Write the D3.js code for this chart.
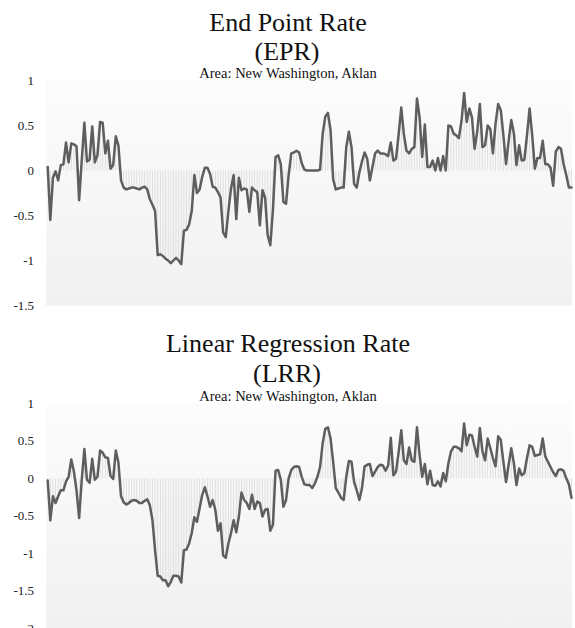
<!DOCTYPE html>
<html>
<head>
<meta charset="utf-8">
<script src="https://cdn.jsdelivr.net/npm/d3@7"></script>
<style>
  body { margin: 0; background: #fff; }
  svg { display: block; }
</style>
</head>
<body>
<script>
// shoreline change rates per transect (m/yr)
var eprValues = [
  0.04, -0.55, -0.08, -0.01, -0.11, 0.06, 0.07, 0.31, 0.09, 0.30,
  0.29, 0.27, -0.33, 0.11, 0.53, 0.10, 0.12, 0.49, 0.09, 0.17,
  0.54, 0.53, 0.19, 0.33, 0.02, 0.06, 0.38, 0.28, -0.11, -0.19,
  -0.21, -0.20, -0.19, -0.19, -0.20, -0.21, -0.19, -0.18, -0.21, -0.32,
  -0.38, -0.45, -0.94, -0.93, -0.95, -0.98, -1.00, -1.03, -1.00, -0.97,
  -1.00, -1.04, -0.67, -0.66, -0.60, -0.45, -0.05, -0.25, -0.21, -0.07,
  0.03, 0.03, -0.04, -0.18, -0.19, -0.24, -0.30, -0.69, -0.74, -0.45,
  -0.20, -0.05, -0.54, -0.08, -0.22, -0.20, -0.21, -0.46, -0.19, -0.22,
  -0.24, -0.61, -0.22, -0.30, -0.72, -0.83, -0.44, 0.15, 0.17, 0.07,
  -0.35, -0.37, -0.05, 0.19, 0.20, 0.22, 0.20, 0.08, 0.01, 0.00,
  0.00, 0.00, 0.00, 0.00, 0.01, 0.41, 0.60, 0.64, 0.45, -0.10,
  -0.21, -0.20, -0.19, -0.19, 0.26, 0.43, 0.26, -0.15, -0.19, -0.02,
  0.10, 0.20, 0.13, -0.11, 0.04, 0.19, 0.22, 0.19, 0.19, 0.18,
  0.16, 0.31, 0.11, 0.13, 0.40, 0.70, 0.40, 0.22, 0.19, 0.24,
  0.26, 0.80, 0.59, 0.15, 0.51, 0.04, 0.04, 0.11, 0.00, 0.14,
  0.00, 0.16, 0.00, 0.50, 0.49, 0.41, 0.39, 0.36, 0.55, 0.86,
  0.54, 0.69, 0.59, 0.24, 0.43, 0.74, 0.26, 0.28, 0.50, 0.46,
  0.19, 0.52, 0.74, 0.67, 0.39, 0.07, 0.33, 0.56, 0.41, 0.06,
  0.28, 0.11, 0.12, 0.39, 0.69, 0.39, 0.02, 0.14, 0.14, 0.33,
  0.07, 0.07, 0.03, -0.17, 0.21, 0.26, 0.24, 0.07, -0.05, -0.19,
  -0.19
];
var lrrValues = [
  -0.03, -0.56, -0.24, -0.33, -0.24, -0.16, -0.16, -0.04, 0.02, 0.25,
  0.09, -0.16, -0.53, -0.02, 0.39, -0.02, -0.06, 0.26, -0.02, 0.02,
  0.37, 0.34, 0.28, 0.27, 0.03, -0.01, 0.37, 0.21, -0.24, -0.32,
  -0.35, -0.33, -0.30, -0.29, -0.30, -0.33, -0.33, -0.30, -0.28, -0.36,
  -0.56, -0.96, -1.30, -1.31, -1.36, -1.36, -1.44, -1.38, -1.30, -1.30,
  -1.31, -1.39, -0.96, -0.95, -0.87, -0.73, -0.52, -0.58, -0.40, -0.22,
  -0.12, -0.24, -0.38, -0.29, -0.42, -0.70, -0.60, -1.03, -1.06, -0.87,
  -0.73, -0.56, -0.72, -0.51, -0.19, -0.29, -0.33, -0.41, -0.22, -0.41,
  -0.31, -0.33, -0.51, -0.42, -0.41, -0.70, -0.62, 0.10, 0.11, -0.02,
  -0.38, -0.29, 0.00, 0.11, 0.15, 0.16, 0.15, 0.02, -0.08, -0.09,
  -0.09, -0.13, -0.07, 0.02, 0.15, 0.47, 0.66, 0.68, 0.53, 0.22,
  -0.13, -0.19, -0.26, -0.29, 0.02, 0.23, 0.22, -0.05, -0.16, -0.29,
  -0.13, 0.16, 0.18, 0.19, 0.03, 0.09, 0.15, 0.18, 0.17, 0.10,
  0.17, 0.54, 0.04, 0.09, 0.35, 0.64, 0.24, 0.19, 0.41, 0.24,
  0.22, 0.68, 0.31, 0.02, 0.19, -0.08, 0.10, -0.09, -0.10, -0.04,
  -0.11, 0.07, -0.04, 0.20, 0.36, 0.42, 0.42, 0.40, 0.36, 0.73,
  0.44, 0.58, 0.57, 0.42, 0.29, 0.67, 0.36, 0.24, 0.53, 0.40,
  0.27, 0.16, 0.56, 0.51, 0.22, -0.05, 0.18, 0.40, 0.20, -0.09,
  0.13, 0.04, 0.07, 0.27, 0.44, 0.42, 0.30, 0.31, 0.32, 0.53,
  0.29, 0.22, 0.15, 0.08, 0.03, 0.11, 0.12, 0.10, 0.00, -0.08,
  -0.26
];
var eprTicks = [1, 0.5, 0, -0.5, -1, -1.5];
var lrrTicks = [1, 0.5, 0, -0.5, -1, -1.5, -2];
var eprTitle = ["End Point Rate", "(EPR)"];
var lrrTitle = ["Linear Regression Rate", "(LRR)"];
var areaLabel = "Area: New Washington, Aklan";

var W = 575, H = 628;
var serif = "'Liberation Serif', 'Times New Roman', Times, serif";
var xLeft = 47.7, xRight = 571.5;

var svg = d3.select("body").append("svg").attr("width", W).attr("height", H);

var defs = svg.append("defs");
var grad = defs.append("linearGradient").attr("id", "plotbg")
  .attr("x1", 0).attr("y1", 0).attr("x2", 0).attr("y2", 1);
grad.append("stop").attr("offset", "0%").attr("stop-color", "#fcfcfc");
grad.append("stop").attr("offset", "100%").attr("stop-color", "#f1f1f1");

function drawChart(values, ticks, title, opt) {
  var g = svg.append("g");

  var x = d3.scaleLinear().domain([0, values.length - 1]).range([xLeft, xRight]);
  var y = d3.scaleLinear().domain([d3.min(ticks), d3.max(ticks)]).range([opt.bottom, opt.top]);

  // plot area
  g.append("rect")
    .attr("x", xLeft - 1.5).attr("y", y(d3.max(ticks)))
    .attr("width", xRight - xLeft + 2).attr("height", y(d3.min(ticks)) - y(d3.max(ticks)))
    .attr("fill", "url(#plotbg)");

  // thin bars from zero to each value
  g.selectAll("rect.bar").data(values).enter().append("rect")
    .attr("class", "bar")
    .attr("x", function(d, i) { return x(i) - 0.4; })
    .attr("width", 0.8)
    .attr("y", function(d) { return y(Math.max(0, d)); })
    .attr("height", function(d) { return Math.abs(y(d) - y(0)); })
    .attr("fill", "#d9d9d9");

  var line = d3.line()
    .x(function(d, i) { return x(i); })
    .y(function(d) { return y(d); });

  g.append("path")
    .datum(values)
    .attr("d", line)
    .attr("fill", "none")
    .attr("stroke", "#5e5e5e")
    .attr("stroke-width", 2.5)
    .attr("stroke-linejoin", "round")
    .attr("stroke-linecap", "round");

  // y axis labels only
  var yAxis = d3.axisLeft(y).tickValues(ticks).tickSize(0).tickPadding(4)
    .tickFormat(function(d) { return d; });
  var ax = g.append("g").attr("transform", "translate(38,0)").call(yAxis);
  ax.select(".domain").remove();
  ax.attr("font-family", null).attr("font-size", null);
  ax.selectAll("text")
    .style("font-family", serif)
    .style("font-size", "13px")
    .attr("fill", "#222");

  // titles
  g.append("text").attr("x", 288).attr("y", opt.titleY)
    .attr("text-anchor", "middle").style("font-family", serif)
    .style("font-size", "26px").attr("fill", "#111").text(title[0]);
  g.append("text").attr("x", 287).attr("y", opt.parenY)
    .attr("text-anchor", "middle").style("font-family", serif)
    .style("font-size", "26px").attr("fill", "#111").text(title[1]);
  g.append("text").attr("x", 288).attr("y", opt.subY)
    .attr("text-anchor", "middle").style("font-family", serif)
    .style("font-size", "14.5px").attr("fill", "#111").text(areaLabel);
}

drawChart(eprValues, eprTicks, eprTitle, {top: 80.5, bottom: 305.5, titleY: 30.5, parenY: 60, subY: 78});
drawChart(lrrValues, lrrTicks, lrrTitle, {top: 403.3, bottom: 628.3, titleY: 352, parenY: 382, subY: 401});
</script>
</body>
</html>
